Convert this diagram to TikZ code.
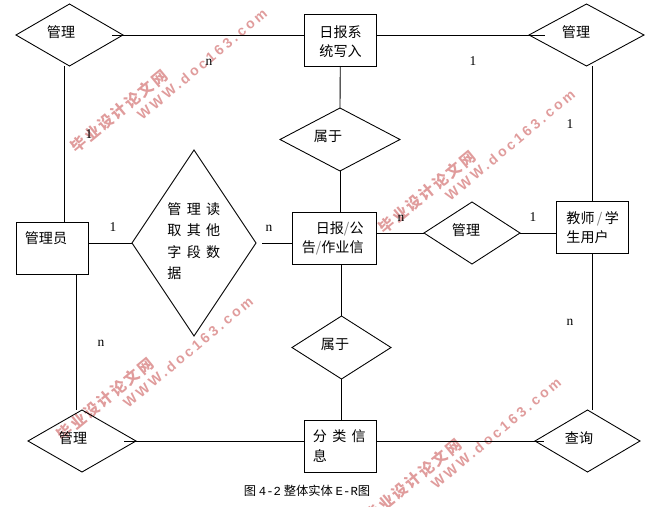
\documentclass[tikz,border=0pt]{standalone}
\usepackage{fontspec}
\setmainfont{Noto Sans CJK SC}
\newfontfamily\widecjk[LetterSpace=38]{Noto Sans CJK SC}
\newfontfamily\markcjk[LetterSpace=14]{Noto Sans CJK SC}
\newfontfamily\markweb[LetterSpace=22]{Liberation Sans}
\newfontfamily\cardfont{Liberation Serif}
\newfontfamily\capfont{Liberation Mono}
\usetikzlibrary{shapes.geometric}

\definecolor{markpink}{HTML}{E09C9C}

\tikzset{
	entity/.style = {draw, rectangle, inner sep = 0, outer sep = 0},
	relation/.style = {draw, diamond, inner sep = 0, outer sep = 0},
	label text/.style = {font = \fontsize{12}{16}\selectfont, inner sep = 0, align = left},
	cardinal/.style = {font = \cardfont\fontsize{11.5}{12}\selectfont, inner sep = 0},
	mark zh/.style = {text = markpink, rotate = 39.5, inner sep = 0, font = \markcjk\bfseries\fontsize{13}{13}\selectfont},
	mark web/.style = {text = markpink, rotate = 40, inner sep = 0, font = \markweb\bfseries\fontsize{12}{12}\selectfont}
}

\begin{document}
\begin{tikzpicture}[x = 0.03cm, y = -0.03cm, line width = 0.75pt]

	\useasboundingbox (0, 0) rectangle (648, 506);

	% watermark
	\foreach \dx/\dy/\id in {0/0/a, 308/81/b, -14/288/c, 294/369/d} {
		\node [mark zh] (markzh\id) at (119 + \dx, 111 + \dy) {毕业设计论文网};
		\node [mark web] (markweb\id) at (202 + \dx, 64 + \dy) {WWW.doc163.com};
	}

	% entities
	\node [entity, minimum width = 2.175cm, minimum height = 1.56cm] (report) at (340.25, 40) {};
	\node [entity, minimum width = 2.535cm, minimum height = 1.56cm] (notice) at (334.25, 238) {};
	\node [entity, minimum width = 2.16cm, minimum height = 1.575cm] (admin) at (52.5, 248.25) {};
	\node [entity, minimum width = 2.16cm, minimum height = 1.545cm] (teacher) at (592, 227.25) {};
	\node [entity, minimum width = 2.175cm, minimum height = 1.56cm] (category) at (340.25, 446) {};

	% relations
	\node [relation, minimum width = 3.21cm, minimum height = 1.86cm] (manageTL) at (69.5, 35) {};
	\node [relation, minimum width = 3.45cm, minimum height = 1.86cm] (manageTR) at (586.5, 35) {};
	\node [relation, minimum width = 3.6cm, minimum height = 1.89cm] (belongA) at (340, 139.5) {};
	\node [relation, minimum width = 3.72cm, minimum height = 5.58cm] (readother) at (194, 243) {};
	\node [relation, minimum width = 2.88cm, minimum height = 1.86cm] (manageMid) at (472, 233) {};
	\node [relation, minimum width = 2.97cm, minimum height = 1.89cm] (belongB) at (341.5, 347.5) {};
	\node [relation, minimum width = 3.24cm, minimum height = 1.86cm] (manageBL) at (82, 441) {};
	\node [relation, minimum width = 3.15cm, minimum height = 1.86cm] (query) at (587.5, 441) {};

	% free ends
	\coordinate (stubTL) at (112, 35);
	\coordinate (stubTR) at (545, 35);
	\coordinate (stubBL) at (124, 441);
	\coordinate (stubBR) at (544, 441);
	\coordinate (adminUp) at (64, 222);
	\coordinate (adminDown) at (76.5, 274.5);
	\coordinate (adminRight) at (88.5, 243);
	\coordinate (readRight) at (262, 243);
	\coordinate (teacherUp) at (592, 201.5);
	\coordinate (teacherDown) at (592, 253);

	% connectors
	\draw (stubTL) -- (stubTL -| report.west);
	\draw (stubTR -| report.east) -- (stubTR);
	\draw (stubBL) -- (stubBL -| category.west);
	\draw (stubBR -| category.east) -- (stubBR);
	\draw (report.south) -- (belongA.north);
	\draw (belongA.south) -- (belongA.south |- notice.north);
	\draw (belongB.north |- notice.south) -- (belongB.north);
	\draw (belongB.south) -- (belongB.south |- category.north);
	\draw (adminUp |- manageTL.south) -- (adminUp);
	\draw (adminDown) -- (adminDown |- manageBL.north);
	\draw (adminRight) -- (readother.west);
	\draw (readRight) -- (readRight -| notice.west);
	\draw (manageMid.west -| notice.east) -- (manageMid.west);
	\draw (manageMid.east) -- (manageMid.east -| teacher.west);
	\draw (teacherUp |- manageTR.south) -- (teacherUp);
	\draw (teacherDown) -- (teacherDown |- query.north);

	% texts of the entities
	\node [label text, anchor = west] (reportText) at (319, 41.5) {日报系\\统写入};
	\node [label text, anchor = east, align = right] (noticeText) at (364, 238.5) {日报{\color{gray}/}公\\告{\color{gray}/}作业信};
	\node [label text] (adminText) at (46, 238) {管理员};
	\node [label text, anchor = west] (teacherText) at (566, 228) {教师{\,\color{gray}/\,}学\\生用户};
	\node [label text, anchor = west, font = \widecjk\fontsize{12}{17}\selectfont] (categoryText) at (312.5, 446) {分类信\\息};

	% texts of the relations
	\node [label text] (manageTLText) at (61, 32) {管理};
	\node [label text] (manageTRText) at (576, 32) {管理};
	\node [label text] (belongAText) at (328, 136) {属于};
	\node [label text, anchor = west, font = \widecjk\fontsize{12}{18.4}\selectfont] (readotherText) at (167, 241) {管理读\\取其他\\字段数\\据};
	\node [label text] (manageMidText) at (466, 230) {管理};
	\node [label text] (belongBText) at (335, 344) {属于};
	\node [label text] (manageBLText) at (73, 438) {管理};
	\node [label text] (queryText) at (579, 438) {查询};

	% cardinalities
	\node [cardinal] (cardA) at (209, 62) {n};
	\node [cardinal] (cardB) at (473, 61) {1};
	\node [cardinal] (cardC) at (89, 134) {1};
	\node [cardinal] (cardD) at (113, 227) {1};
	\node [cardinal] (cardE) at (269, 228) {n};
	\node [cardinal] (cardF) at (401, 218) {n};
	\node [cardinal] (cardG) at (533, 217) {1};
	\node [cardinal] (cardH) at (570, 124.5) {1};
	\node [cardinal] (cardI) at (570, 322) {n};
	\node [cardinal] (cardJ) at (101, 343) {n};

	\node [inner sep = 0, font = \fontsize{10.5}{12}\selectfont] (caption) at (307, 491) {图 {\capfont 4-2} 整体实体 {\capfont E-R}图};

\end{tikzpicture}
\end{document}
